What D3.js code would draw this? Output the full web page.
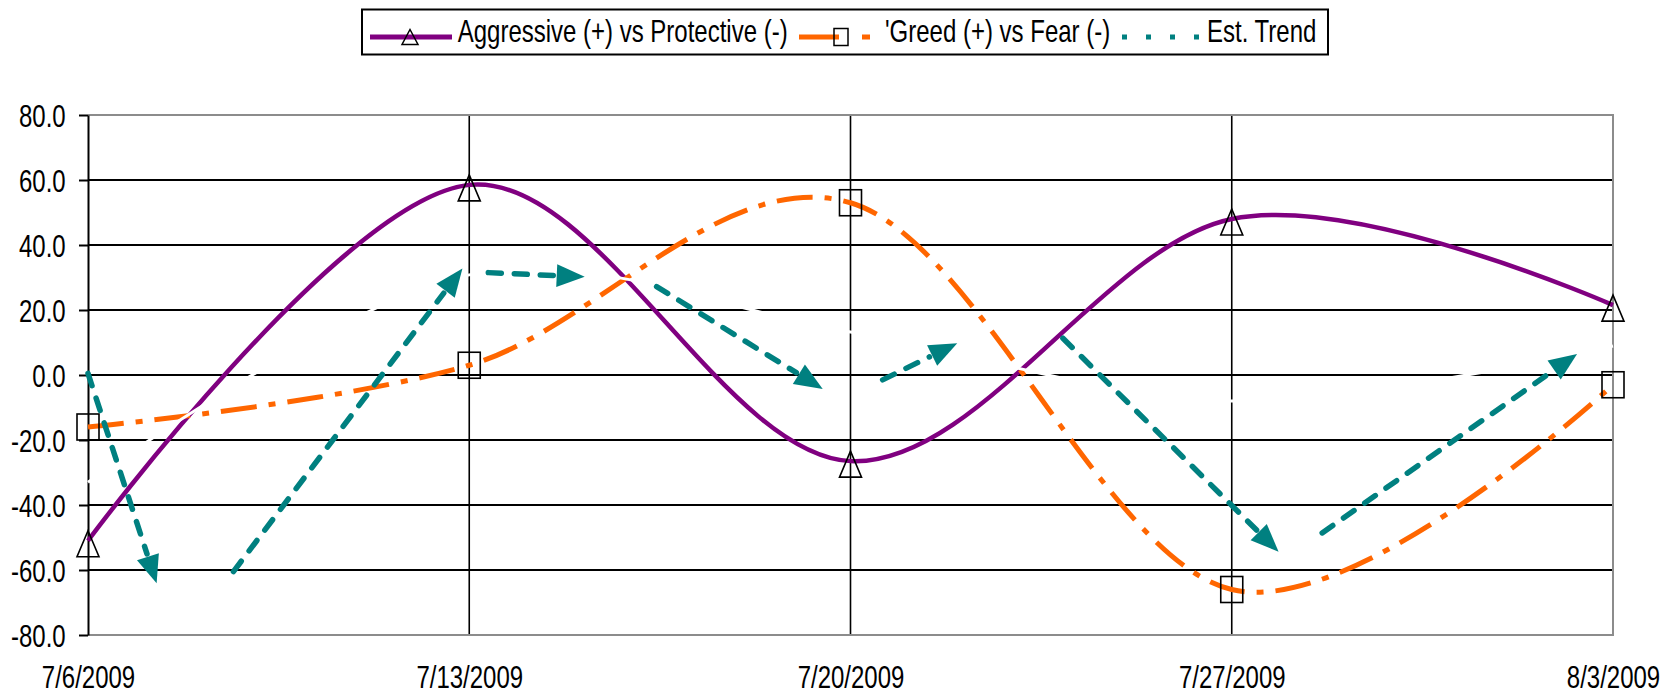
<!DOCTYPE html>
<html><head><meta charset="utf-8">
<script src="https://cdn.jsdelivr.net/npm/d3@7"></script>
<style>
body{margin:0;background:#fff}
text{font-family:"Liberation Sans",Arial,sans-serif;fill:#000}
</style>
</head><body>
<svg id="c" width="1671" height="694"></svg>
<script>
// ---------- data ----------
const dateLabels = ["7/6/2009", "7/13/2009", "7/20/2009", "7/27/2009", "8/3/2009"];
const aggressive = [-51, 58.5, -26.5, 48, 21.5];
const greed = [-16, 3, 53, -66, -3];
// hidden (white) Est. Trend series line
const estTrendSeries = [-33, 30.8, 13.2, -8, 8.9];
const yTicks = [80, 60, 40, 20, 0, -20, -40, -60, -80];
// Est. Trend arrows (day offset from 7/6/2009, value)
const arrowStartDay = [0, 2.67, 7.35, 10.44, 14.59, 17.90, 22.66];
const arrowStartVal = [0.5, -60.5, 31.5, 27.2, -1.5, 11.3, -48.6];
const arrowEndDay   = [1.26, 6.875, 9.12, 13.49, 15.96, 21.86, 27.34];
const arrowEndVal   = [-64.1, 32.8, 30.2, -4.3, 9.8, -54.4, 6.5];
const legendLabels = ["Aggressive (+) vs Protective (-)", "'Greed (+) vs Fear (-)", "Est. Trend"];

// ---------- setup ----------
const svg = d3.select("#c");
const parse = s => { const [m, d, yy] = s.split("/").map(Number); return new Date(yy, m - 1, d); };
const dates = dateLabels.map(parse);
const dayToDate = d => new Date(dates[0].getTime() + d * 864e5);
const x = d3.scaleTime().domain([dates[0], dates[dates.length - 1]]).range([88, 1613]);
const y = d3.scaleLinear().domain([-80, 80]).range([635, 115]);
const SY = 1.33;

const PURPLE = "#800080", ORANGE = "#FF6600", TEAL = "#008080";

// gridlines
svg.append("g").selectAll("line").data(yTicks.filter(v => v !== 80 && v !== -80)).join("line")
  .attr("x1", 88).attr("x2", 1613).attr("y1", d => y(d)).attr("y2", d => y(d))
  .attr("stroke", "#000").attr("stroke-width", 2);
svg.append("g").selectAll("line").data(dates.slice(1, -1)).join("line")
  .attr("x1", d => x(d)).attr("x2", d => x(d)).attr("y1", y(80)).attr("y2", y(-80))
  .attr("stroke", "#000").attr("stroke-width", 1.6);
// plot border (gray)
svg.append("path")
  .attr("d", `M${x(dates[0])},${y(80)}H${x(dates[4])}V${y(-80)}H${x(dates[0])}`)
  .attr("fill", "none").attr("stroke", "#8c8c8c").attr("stroke-width", 2);

// left axis
const ay = svg.append("g").attr("transform", `translate(${x(dates[0])},0)`)
  .call(d3.axisLeft(y).tickValues(yTicks).tickSize(9).tickSizeOuter(0).tickFormat(d => d.toFixed(1)));
ay.select(".domain").attr("stroke", "#000").attr("stroke-width", 2);
ay.selectAll(".tick line").attr("stroke", "#000").attr("stroke-width", 2);
ay.selectAll(".tick text").attr("x", null).attr("dy", null).attr("y", null)
  .attr("text-anchor", "end").attr("font-size", 24)
  .attr("transform", `translate(-22.3,11.4) scale(1,${SY})`);

// bottom axis labels
const ax = svg.append("g").attr("transform", `translate(0,${y(-80)})`)
  .call(d3.axisBottom(x).tickValues(dates).tickSize(0).tickFormat((d, i) => dateLabels[i]));
ax.select(".domain").remove();
ax.selectAll(".tick text").attr("y", null).attr("dy", null)
  .attr("text-anchor", "middle").attr("font-size", 24)
  .attr("transform", `translate(0,53.3) scale(1,${SY})`);

// series
const line = d3.line().x((d, i) => x(dates[i])).y(d => y(d)).curve(d3.curveCardinal.tension(0));
svg.append("path").datum(aggressive).attr("d", line)
  .attr("fill", "none").attr("stroke", PURPLE).attr("stroke-width", 4.5);
svg.append("path").datum(greed).attr("d", line)
  .attr("fill", "none").attr("stroke", ORANGE).attr("stroke-width", 5)
  .attr("stroke-dasharray", "36,12,7,12");
svg.append("path").datum(estTrendSeries).attr("d", line)
  .attr("fill", "none").attr("stroke", "#fff").attr("stroke-width", 3);

// markers
const tri = (cx, cy, w, h) => `M${cx},${cy - h / 2}L${cx + w / 2},${cy + h / 2}L${cx - w / 2},${cy + h / 2}Z`;
svg.append("g").selectAll("path").data(aggressive).join("path")
  .attr("d", (d, i) => tri(x(dates[i]), y(d) + 3, 22, 26))
  .attr("fill", "none").attr("stroke", "#000").attr("stroke-width", 1.6);
svg.append("g").selectAll("rect").data(greed).join("rect")
  .attr("x", (d, i) => x(dates[i]) - 11).attr("y", d => y(d) - 13)
  .attr("width", 22).attr("height", 26)
  .attr("fill", "none").attr("stroke", "#000").attr("stroke-width", 1.6);

// trend arrows
const HL = 28, HW = 11.5;
const ag = svg.append("g");
arrowStartDay.forEach((sd, i) => {
  const x0 = x(dayToDate(sd)), y0 = y(arrowStartVal[i]);
  const x1 = x(dayToDate(arrowEndDay[i])), y1 = y(arrowEndVal[i]);
  const L = Math.hypot(x1 - x0, y1 - y0), ux = (x1 - x0) / L, uy = (y1 - y0) / L;
  const bx = x1 - ux * HL, by = y1 - uy * HL;
  ag.append("line").attr("x1", x0).attr("y1", y0).attr("x2", bx - ux * 3).attr("y2", by - uy * 3)
    .attr("stroke", TEAL).attr("stroke-width", 5.5).attr("stroke-linecap", "round")
    .attr("stroke-dasharray", "13,13");
  ag.append("path")
    .attr("d", `M${x1},${y1}L${bx - uy * HW},${by + ux * HW}L${bx + uy * HW},${by - ux * HW}Z`)
    .attr("fill", TEAL);
});

// legend
const lg = svg.append("g");
lg.append("rect").attr("x", 362).attr("y", 9.5).attr("width", 966).attr("height", 45)
  .attr("fill", "#fff").attr("stroke", "#000").attr("stroke-width", 2);
const LY = 37;
lg.append("line").attr("x1", 370).attr("x2", 452).attr("y1", LY).attr("y2", LY)
  .attr("stroke", PURPLE).attr("stroke-width", 5);
lg.append("path").attr("d", tri(410, LY, 16, 15)).attr("fill", "none").attr("stroke", "#000").attr("stroke-width", 1.5);
lg.append("line").attr("x1", 799).attr("x2", 875).attr("y1", LY).attr("y2", LY)
  .attr("stroke", ORANGE).attr("stroke-width", 5).attr("stroke-dasharray", "40,23,8,20");
lg.append("rect").attr("x", 834).attr("y", LY - 8.5).attr("width", 14).attr("height", 17)
  .attr("fill", "none").attr("stroke", "#000").attr("stroke-width", 1.5);
lg.append("line").attr("x1", 1122).attr("x2", 1202).attr("y1", LY).attr("y2", LY)
  .attr("stroke", TEAL).attr("stroke-width", 5).attr("stroke-dasharray", "5,19");
const legendX = [457.7, 885, 1207];
lg.selectAll("text").data(legendLabels).join("text")
  .attr("font-size", 24)
  .attr("transform", (d, i) => `translate(${legendX[i]},41.7) scale(1,1.27)`)
  .text(d => d);
</script>
</body></html>
